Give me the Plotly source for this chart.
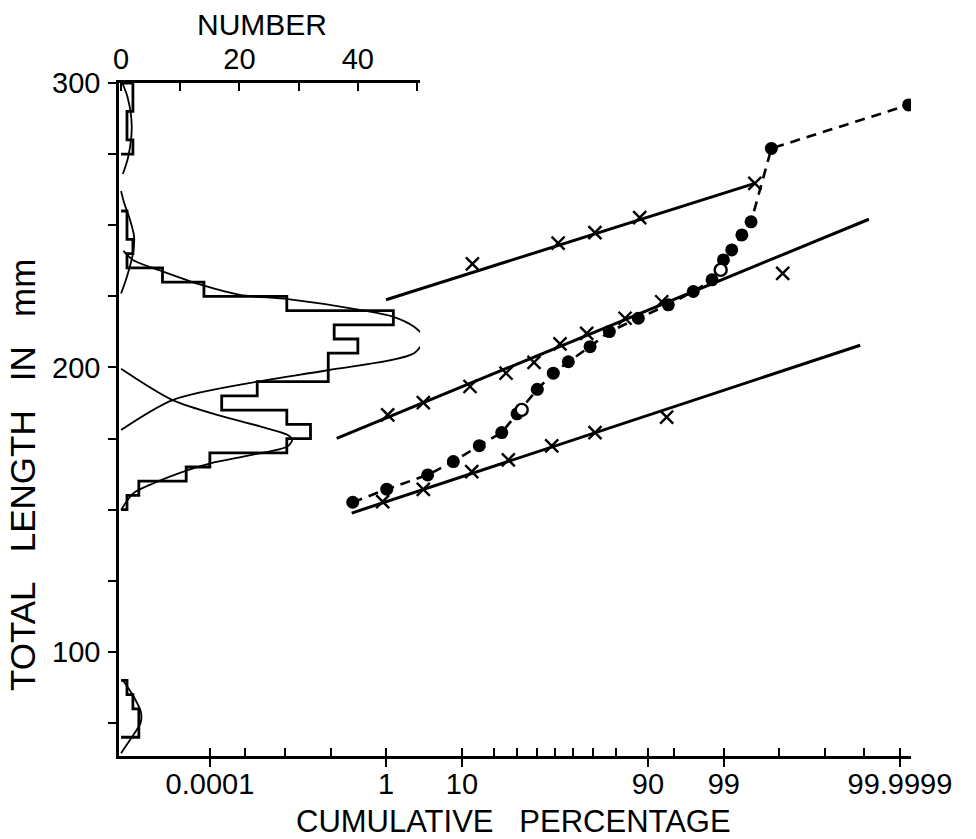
import math
import numpy as np
import plotly.graph_objects as go

# ------------------------------------------------------------------ data
# Histogram of total length (5 mm classes): lower class edges and numbers
hist_main_lower = [150, 155, 160, 165, 170, 175, 180, 185, 190, 195, 200,
                   205, 210, 215, 220, 225, 230, 235, 240, 245, 250]
hist_main_count = [1, 3, 11, 15, 28, 32, 28, 17, 23, 35, 35,
                   40, 36, 46, 28, 14, 7, 1, 2, 1, 1]
hist_top_lower = [275, 280, 285, 290, 295]
hist_top_count = [2, 1, 1, 2, 2]
hist_bot_lower = [70, 75, 80, 85]
hist_bot_count = [3, 3, 2, 1]
BIN = 5

# Fitted component curves (number, length mm)
curveA_n = [0, 8.8, 23, 35.1, 49.5, 51.2, 49.5, 45.9, 41.1, 28.2, 20.1, 13.6, 7.1, 2.0, 0.4]
curveA_l = [178.0, 188.6, 195.0, 199.1, 205.0, 210.3, 214.3, 217.9, 220.0, 224.0, 225.5, 229.0, 233.7, 237.8, 241.0]
curveB_n = [0, 8.6, 17.3, 23.6, 28.1, 28.9, 28.1, 21.9, 15.1, 11.4, 5.5, 2.1, 0]
curveB_l = [199.5, 188.6, 182.7, 179.2, 176.3, 174.5, 172.2, 169.2, 166.3, 164.0, 159.3, 155.8, 149.9]
curveC_n = [0.2, 1.1, 1.8, 1.2, 0.3]
curveC_l = [300, 295, 285, 274, 268]
curveD_n = [0, 1.0, 2.0, 2.2, 1.5, 0.5, 0]
curveD_l = [226, 232, 240, 246, 252, 258, 262]
curveE_n = [0.3, 2.1, 3.4, 3.3, 3.0, 1.5, 0]
curveE_l = [90.0, 84.4, 78.5, 75.0, 73.8, 69.0, 64.4]

# Probability plot: cumulative percentage vs total length
line1_pct = [1.0, 99.706]
line1_len = [223.8, 264.7]
line1_x_pct = [12.78, 51.75, 70.92, 87.86, 99.706]
line1_x_len = [236.4, 243.7, 247.4, 252.7, 264.7]

line2_pct = [0.132, 99.99924]
line2_len = [175.1, 252.1]
line2_x_pct = [1.061, 3.49, 12.1, 25.02, 38.67, 52.79, 66.93, 83.3, 92.94, 99.915]
line2_x_len = [183.3, 187.6, 193.3, 198.0, 201.8, 208.3, 212.0, 217.3, 223.1, 233.1]

line3_pct = [0.2555, 99.9987]
line3_len = [148.8, 207.8]
line3_x_pct = [0.882, 3.49, 12.59, 26.05, 48.25, 70.97, 93.82]
line3_x_len = [152.8, 157.1, 163.4, 167.5, 172.4, 177.1, 182.5]

dots_pct = [0.267, 1.025, 3.98, 8.08, 14.87, 23.18, 30.08, 40.42, 49.12, 57.34,
            68.58, 77.34, 87.47, 94.09, 97.17, 98.48, 98.988, 99.258, 99.500,
            99.656, 99.857, 99.999945]
dots_len = [152.6, 157.2, 162.2, 166.9, 172.5, 177.1, 183.7, 192.3, 198.0, 202.0,
            207.3, 212.6, 217.3, 222.0, 226.7, 230.8, 237.8, 241.3, 246.6,
            251.2, 277.0, 292.3]
open_pct = [32.38, 98.881]
open_len = [185.1, 234.3]

major_pct = [0.0001, 1, 10, 90, 99, 99.9999]
major_lab = ["0.0001", "1", "10", "90", "99", "99.9999"]
minor_pct = [0.001, 0.01, 0.1, 20, 30, 40, 50, 60, 70, 80, 95, 99.9, 99.99, 99.999]

len_ticks = [75, 100, 125, 150, 175, 200, 225, 250, 275, 300]
len_labels = ["", "100", "", "", "", "200", "", "", "", "300"]
num_ticks = [0, 10, 20, 30, 40, 50]
num_labels = ["0", "", "20", "", "40", ""]


# ------------------------------------------------------------------ probit scale
def _probit1(p):
    a = [-3.969683028665376e+01, 2.209460984245205e+02, -2.759285104469687e+02,
         1.383577518672690e+02, -3.066479806614716e+01, 2.506628277459239e+00]
    b = [-5.447609879822406e+01, 1.615858368580409e+02, -1.556989798598866e+02,
         6.680131188771972e+01, -1.328068155288572e+01]
    c = [-7.784894002430293e-03, -3.223964580411365e-01, -2.400758277161838e+00,
         -2.549732539343734e+00, 4.374664141464968e+00, 2.938163982698783e+00]
    d = [7.784695709041462e-03, 3.224671290700398e-01, 2.445134137142996e+00,
         3.754408661907416e+00]
    plow = 0.02425
    if p < plow:
        q = math.sqrt(-2 * math.log(p))
        return (((((c[0]*q + c[1])*q + c[2])*q + c[3])*q + c[4])*q + c[5]) / \
               ((((d[0]*q + d[1])*q + d[2])*q + d[3])*q + 1)
    if p > 1 - plow:
        q = math.sqrt(-2 * math.log(1 - p))
        return -(((((c[0]*q + c[1])*q + c[2])*q + c[3])*q + c[4])*q + c[5]) / \
                ((((d[0]*q + d[1])*q + d[2])*q + d[3])*q + 1)
    q = p - 0.5
    r = q * q
    return (((((a[0]*r + a[1])*r + a[2])*r + a[3])*r + a[4])*r + a[5])*q / \
           (((((b[0]*r + b[1])*r + b[2])*r + b[3])*r + b[4])*r + 1)


def probit(pcts):
    return [_probit1(v / 100.0) for v in pcts]


def step_outline(lower, counts, width):
    xs = [0]
    ys = [lower[0]]
    for lo, c in zip(lower, counts):
        xs.append(c)
        ys.append(lo + width)
    xs.append(0)
    ys.append(lower[-1] + width)
    return xs, ys


# ------------------------------------------------------------------ figure
BLACK = "black"
FONT = "Liberation Sans, Arial, sans-serif"
fig = go.Figure()

# histograms (top NUMBER axis)
for lo, cnt in [(hist_main_lower, hist_main_count),
                (hist_top_lower, hist_top_count),
                (hist_bot_lower, hist_bot_count)]:
    hx, hy = step_outline(lo, cnt, BIN)
    fig.add_trace(go.Scatter(x=hx, y=hy, xaxis="x2", yaxis="y", mode="lines",
                             line=dict(color=BLACK, width=2.8, shape="hv"),
                             showlegend=False, hoverinfo="skip"))

for cn, cl in [(curveA_n, curveA_l), (curveB_n, curveB_l), (curveC_n, curveC_l),
               (curveD_n, curveD_l), (curveE_n, curveE_l)]:
    fig.add_trace(go.Scatter(x=cn, y=cl, xaxis="x2", yaxis="y", mode="lines",
                             line=dict(color=BLACK, width=1.8, shape="spline", smoothing=0.8),
                             showlegend=False, hoverinfo="skip"))

# fitted straight lines
for lp, ll in [(line1_pct, line1_len), (line2_pct, line2_len), (line3_pct, line3_len)]:
    fig.add_trace(go.Scatter(x=probit(lp), y=ll, mode="lines",
                             line=dict(color=BLACK, width=3),
                             showlegend=False, hoverinfo="skip"))

# dashed line through the observed points
fig.add_trace(go.Scatter(x=probit(dots_pct), y=dots_len, mode="lines",
                         line=dict(color=BLACK, width=2.6, dash="10px,7px"),
                         showlegend=False, hoverinfo="skip"))

# X markers
for xp, xl in [(line1_x_pct, line1_x_len), (line2_x_pct, line2_x_len),
               (line3_x_pct, line3_x_len)]:
    fig.add_trace(go.Scatter(x=probit(xp), y=xl, mode="markers",
                             marker=dict(symbol="x-thin-open", size=13, color=BLACK,
                                         line=dict(color=BLACK, width=2.4)),
                             showlegend=False, hoverinfo="skip"))

# filled dots
fig.add_trace(go.Scatter(x=probit(dots_pct), y=dots_len, mode="markers",
                         marker=dict(symbol="circle", size=13, color=BLACK),
                         showlegend=False, hoverinfo="skip"))
# open circles
fig.add_trace(go.Scatter(x=probit(open_pct), y=open_len, mode="markers",
                         marker=dict(symbol="circle", size=12, color="white",
                                     line=dict(color=BLACK, width=2.4)),
                         showlegend=False, hoverinfo="skip"))

# invisible trace so the tick-overlay axis is drawn
fig.add_trace(go.Scatter(x=[0], y=[200], xaxis="x3", yaxis="y", mode="markers",
                         marker=dict(opacity=0), showlegend=False, hoverinfo="skip"))

z_major = probit(major_pct)
z_minor = probit(minor_pct)

L, R, T, B = 119, 65, 83, 83
W, H = 976, 839
plot_w = W - L - R
plot_h = H - T - B
num_dom = (420 - L) / plot_w

NB = "\u00a0" * 3

fig.update_layout(
    width=W, height=H,
    margin=dict(l=L, r=R, t=T, b=B),
    paper_bgcolor="white", plot_bgcolor="rgba(0,0,0,0)",
    font=dict(family=FONT, size=28, color=BLACK),
    xaxis=dict(domain=[0, 1], range=[-6.006, 4.906], anchor="y",
               showline=True, linecolor=BLACK, linewidth=2.6,
               showgrid=False, zeroline=False,
               tickvals=z_major, ticktext=major_lab,
               ticks="outside", ticklen=8, tickwidth=2.4, tickcolor=BLACK,
               ticklabelstandoff=-8,
               tickfont=dict(family=FONT, size=29, color=BLACK),
               minor=dict(tickvals=z_minor, ticks="inside", ticklen=8,
                          tickwidth=2, tickcolor=BLACK, showgrid=False)),
    xaxis3=dict(overlaying="x", matches="x", anchor="y", side="bottom",
                showline=False, showgrid=False, zeroline=False,
                tickvals=z_major, ticks="inside", ticklen=8, tickwidth=2.4,
                tickcolor=BLACK, showticklabels=False),
    xaxis2=dict(domain=[0, num_dom], range=[-0.35, 50.5], anchor="y", side="top",
                showline=True, linecolor=BLACK, linewidth=2.6,
                showgrid=False, zeroline=False,
                tickvals=num_ticks, ticktext=num_labels,
                ticks="inside", ticklen=8, tickwidth=2.4, tickcolor=BLACK,
                tickfont=dict(family=FONT, size=29, color=BLACK)),
    yaxis=dict(domain=[0, 1], range=[63.4, 300],
               showline=True, linecolor=BLACK, linewidth=2.6,
               showgrid=False, zeroline=False,
               tickvals=len_ticks, ticktext=len_labels,
               ticks="outside", ticklen=8, tickwidth=2.4, tickcolor=BLACK,
               ticklabelstandoff=2,
               tickfont=dict(family=FONT, size=29, color=BLACK)),
    annotations=[
        dict(text="NUMBER", xref="paper", yref="paper",
             x=(262 - L) / plot_w, y=1 + (T - 24) / plot_h,
             showarrow=False, font=dict(family=FONT, size=30, color=BLACK),
             xanchor="center", yanchor="middle"),
        dict(text="CUMULATIVE\u00a0\u00a0\u00a0PERCENTAGE", xref="paper", yref="paper",
             x=(513 - L) / plot_w, y=-(821 - (H - B)) / plot_h,
             showarrow=False, font=dict(family=FONT, size=31, color=BLACK),
             xanchor="center", yanchor="middle"),
        dict(text="TOTAL" + NB + "LENGTH" + NB + "IN" + NB + "mm",
             xref="paper", yref="paper",
             x=(22 - L) / plot_w, y=1 - (475 - T) / plot_h,
             showarrow=False, textangle=-90,
             font=dict(family=FONT, size=35, color=BLACK),
             xanchor="center", yanchor="middle"),
    ],
)

fig.write_html("out.html")
